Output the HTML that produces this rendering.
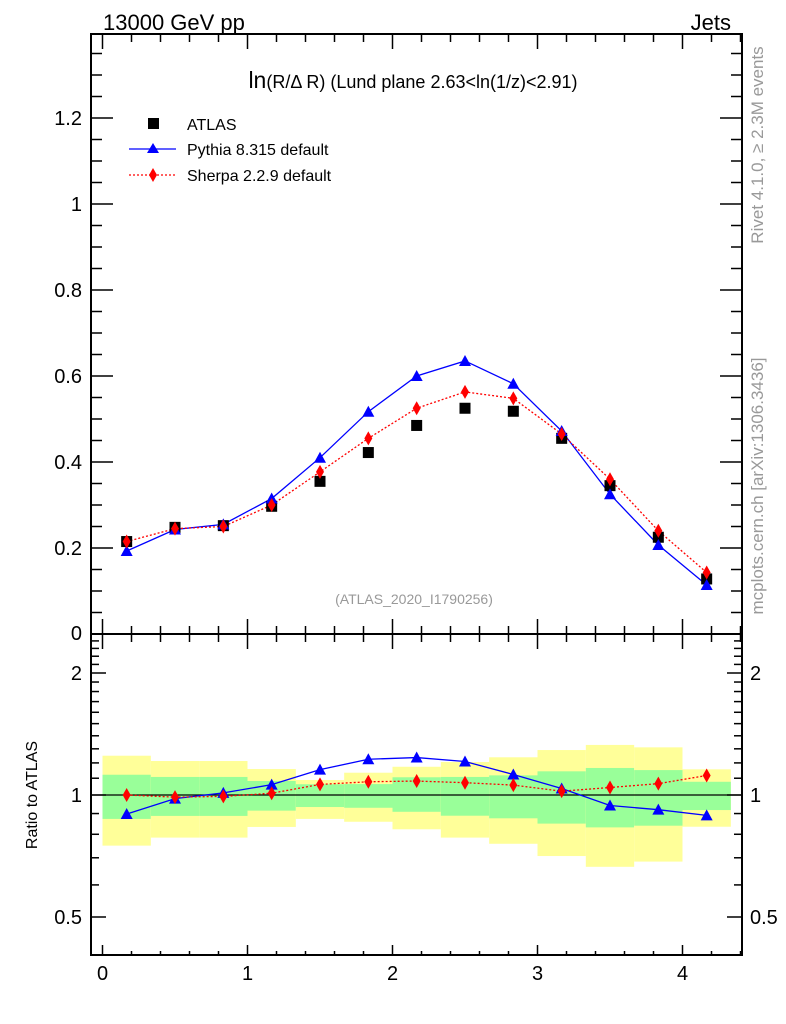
<!DOCTYPE html>
<html><head><meta charset="utf-8"><style>
body{margin:0;background:#fff;}
svg{display:block;font-family:"Liberation Sans",sans-serif;}
</style></head><body>
<svg id="c" width="786" height="1024" viewBox="0 0 786 1024">
<g id="bands"></g>
<g id="axes"></g>
<g id="series"></g>
<text x="103" y="30" font-size="22">13000 GeV pp</text>
<text x="731" y="30" font-size="22" text-anchor="end">Jets</text>
<text x="413" y="88" font-size="18" text-anchor="middle"><tspan font-size="23">ln</tspan>(R/Δ R) (Lund plane 2.63&lt;ln(1/z)&lt;2.91)</text>
<text x="414" y="604" font-size="14" fill="#999" text-anchor="middle">(ATLAS_2020_I1790256)</text>
<text transform="translate(763,145) rotate(-90)" font-size="17" fill="#999" text-anchor="middle">Rivet 4.1.0, ≥ 2.3M events</text>
<text transform="translate(763,486) rotate(-90)" font-size="17" fill="#999" text-anchor="middle">mcplots.cern.ch [arXiv:1306.3436]</text>
<text transform="translate(37,795) rotate(-90)" font-size="16" text-anchor="middle">Ratio to ATLAS</text>
<g>
<rect x="148" y="118" width="11" height="11" fill="#000"/>
<text x="187" y="130" font-size="16">ATLAS</text>
<line x1="129" y1="149" x2="176" y2="149" stroke="#00f" stroke-width="1.3"/>
<polygon points="153,143 159,153 147,153" fill="#00f"/>
<text x="187" y="155" font-size="16">Pythia 8.315 default</text>
<line x1="129" y1="175" x2="176" y2="175" stroke="#f00" stroke-width="1.3" stroke-dasharray="2,2"/>
<polygon points="153,168 157,175 153,182 149,175" fill="#f00"/>
<text x="187" y="181" font-size="16">Sherpa 2.2.9 default</text>
</g>
</svg>
<script>
const binEdgesStep = 1/3;
const atlas  = [0.215,0.248,0.252,0.297,0.355,0.422,0.485,0.525,0.518,0.455,0.345,0.225,0.128];
const pythia = [0.193,0.243,0.255,0.315,0.41,0.517,0.6,0.635,0.582,0.472,0.325,0.207,0.114];
const sherpa = [0.215,0.245,0.25,0.30,0.377,0.455,0.525,0.563,0.548,0.465,0.36,0.24,0.143];
const yellowHi = [1.25,1.213,1.213,1.159,1.089,1.135,1.174,1.206,1.239,1.291,1.329,1.311,1.157];
const yellowLo = [0.75,0.785,0.785,0.834,0.873,0.859,0.823,0.785,0.758,0.707,0.665,0.685,0.835];
const greenHi  = [1.122,1.108,1.108,1.083,1.063,1.064,1.106,1.108,1.118,1.144,1.166,1.152,1.078];
const greenLo  = [0.873,0.888,0.888,0.915,0.934,0.930,0.909,0.889,0.876,0.85,0.832,0.84,0.918];
const xTicks = [0,1,2,3,4];
const yTicks = [0.2,0.4,0.6,0.8,1,1.2];
const yTickLabels = ["0.2","0.4","0.6","0.8","1","1.2"];
const rTicks = [0.5,1,2];
const rTickLabels = ["0.5","1","2"];

const NS="http://www.w3.org/2000/svg";
const L=91,R=742,T=34,MB=634,RB=955;
const X=v=>102.5+v*145;
const Y=v=>634-v*430;
const RY=v=>795-122*Math.log2(v);
function mk(tag,attrs,parent){const e=document.createElementNS(NS,tag);for(const k in attrs)e.setAttribute(k,attrs[k]);parent.appendChild(e);return e;}
const bands=document.getElementById('bands'),axes=document.getElementById('axes'),ser=document.getElementById('series');

atlas.forEach((_,i)=>{
  const x0=X(i*binEdgesStep),x1=X((i+1)*binEdgesStep);
  const y=mk('rect',{x:x0,y:RY(yellowHi[i]),width:x1-x0,height:RY(yellowLo[i])-RY(yellowHi[i]),fill:'#ffff99'},bands);
  
  
  const g=mk('rect',{x:x0,y:RY(greenHi[i]),width:x1-x0,height:RY(greenLo[i])-RY(greenHi[i]),fill:'#99ff99'},bands);
  
  
});
mk('line',{x1:L,x2:R,y1:RY(1),y2:RY(1),stroke:'#000','stroke-width':1.3},axes);
const f1=mk('rect',{x:L,y:T,width:R-L,height:MB-T,fill:'none',stroke:'#000','stroke-width':2},axes);


const f2=mk('rect',{x:L,y:MB,width:R-L,height:RB-MB,fill:'none',stroke:'#000','stroke-width':2},axes);


const st={stroke:'#000','stroke-width':1.5};
for(let k=0;k<=22;k++){const v=k*0.2,x=X(v);if(x>R)break;const maj=k%5==0;
  const lm=maj?15:8,lr=maj?10:4;
  mk('line',Object.assign({x1:x,x2:x,y1:T,y2:T+lm},st),axes);
  mk('line',Object.assign({x1:x,x2:x,y1:MB,y2:MB-lm},st),axes);
  mk('line',Object.assign({x1:x,x2:x,y1:MB,y2:MB+lm},st),axes);
  mk('line',Object.assign({x1:x,x2:x,y1:RB,y2:RB-lr},st),axes);}
xTicks.forEach(v=>{const t=mk('text',{x:X(v),y:980,'font-size':20,'text-anchor':'middle'},axes);t.textContent=v;
  
  });
for(let k=1;k<28;k++){const v=k*0.05,y=Y(v);const maj=k%4==0;const l=maj?22:11;
  mk('line',Object.assign({x1:L,x2:L+l,y1:y,y2:y},st),axes);
  mk('line',Object.assign({x1:R,x2:R-l,y1:y,y2:y},st),axes);}
yTicks.forEach((v,i)=>{const t=mk('text',{x:82,y:Y(v)+7,'font-size':20,'text-anchor':'end'},axes);t.textContent=yTickLabels[i];
  
  });
const z=mk('text',{x:82,y:640,'font-size':20,'text-anchor':'end'},axes);z.textContent='0';
for(let k=4;k<=25;k++){const v=k/10,y=RY(v);if(y<MB+2||y>RB-1)continue;const maj=(k==5||k==10||k==20);const l=maj?15:8;
  mk('line',Object.assign({x1:L,x2:L+l,y1:y,y2:y},st),axes);
  mk('line',Object.assign({x1:R,x2:R-l,y1:y,y2:y},st),axes);}
rTicks.forEach((v,i)=>{const t=mk('text',{x:82,y:RY(v)+7,'font-size':20,'text-anchor':'end'},axes);t.textContent=rTickLabels[i];
  
  
  const t2=mk('text',{x:750,y:RY(v)+7,'font-size':20},axes);t2.textContent=rTickLabels[i];
  
  });

const cx=i=>X((i+0.5)*binEdgesStep);
function line(vals,yf,color,dash,name){
  const p=mk('polyline',{points:vals.map((v,i)=>cx(i)+','+yf(v,i)).join(' '),fill:'none',stroke:color,'stroke-width':1.3},ser);
  if(dash)p.setAttribute('stroke-dasharray',dash);
  
  }
function tri(x,y,name){const p=mk('polygon',{points:`${x},${y-6} ${x+6},${y+5} ${x-6},${y+5}`,fill:'#00f'},ser);
  
  }
function dia(x,y,name){const p=mk('polygon',{points:`${x},${y-7} ${x+4},${y} ${x},${y+7} ${x-4},${y}`,fill:'#f00'},ser);
  
  }
line(pythia,v=>Y(v),'#00f',null,'pythia-line');
line(sherpa,v=>Y(v),'#f00','2,2','sherpa-line');
atlas.forEach((v,i)=>{const r=mk('rect',{x:cx(i)-5.5,y:Y(v)-5.5,width:11,height:11,fill:'#000'},ser);
  
  });
pythia.forEach((v,i)=>tri(cx(i),Y(v),'pythia-point'));
sherpa.forEach((v,i)=>dia(cx(i),Y(v),'sherpa-point'));
line(pythia,(v,i)=>RY(v/atlas[i]),'#00f',null,'pythia-ratio-line');
line(sherpa,(v,i)=>RY(v/atlas[i]),'#f00','2,2','sherpa-ratio-line');
pythia.forEach((v,i)=>tri(cx(i),RY(v/atlas[i]),'pythia-ratio-point'));
sherpa.forEach((v,i)=>dia(cx(i),RY(v/atlas[i]),'sherpa-ratio-point'));
</script>
</body></html>
